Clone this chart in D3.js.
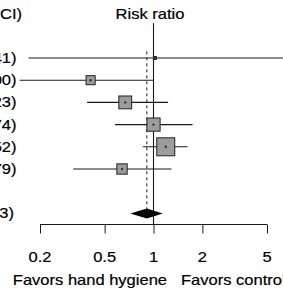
<!DOCTYPE html>
<html>
<head>
<meta charset="utf-8">
<script src="https://cdn.jsdelivr.net/npm/d3@7"></script>
<style>
  body { margin: 0; background: #fff; }
  svg { display: block; }
  text { font-family: "Liberation Sans", Arial, Helvetica, sans-serif; fill: #000; }
</style>
</head>
<body>
<div id="forest"></div>
<script>
var width = 283, height = 290;

// study rows (labels are cut off at the left edge in the source)
var labels = ["1.02 (0.17, 6.41)", "0.41 (0.15, 1.00)", "0.67 (0.39, 1.23)",
              "1.00 (0.58, 1.74)", "1.19 (0.86, 1.52)", "0.64 (0.32, 1.79)"];
var rr     = [1.02, 0.41, 0.67, 1.00, 1.19, 0.64];
var lower  = [0.17, 0.15, 0.39, 0.58, 0.86, 0.32];
var upper  = [6.41, 1.00, 1.23, 1.74, 1.62, 1.29];
var weights = [0.9, 8.5, 17, 18, 33.5, 11];

// pooled estimate
var pooledLabel = "0.91 (0.72, 1.13)";
var pooled = [0.91, 0.72, 1.14];

var ticks = [0.2, 0.5, 1, 2, 5];
var headerLabel = "RR (95% CI)";
var titleLabel = "Risk ratio";
var favorsLeft = "Favors hand hygiene", favorsRight = "Favors control";

const lineColor = "#1a1a1a", boxFill = "#9c9c9c";
var textScaleX = 1.18;

var x = d3.scaleLog().domain([0.2, 5]).range([40, 267]);
// row index -> y ; header at -2, pooled at 7, axis at 7.5
var y = d3.scaleLinear().domain([0, 1]).range([58, 80.2]);
var boxSize = d3.scaleSqrt().domain([0, 33.5]).range([0, 18]);

let svg = d3.select("#forest")
            .append("svg")
            .attr("width", width)
            .attr("height", height);

svg.append("rect").attr("width", width).attr("height", height).attr("fill", "#fff");

function addText(tx, ty, str, anchor) {
    svg.append("text")
       .attr("transform", "translate(" + tx + "," + ty + ") scale(" + textScaleX + ",1)")
       .attr("text-anchor", anchor)
       .style("font-size", "14px")
       .style("stroke", "#000")
       .style("stroke-width", 0.2)
       .text(str);
}

// reference lines
svg.append("line")
   .attr("x1", x(1)).attr("x2", x(1))
   .attr("y1", y(-1.57)).attr("y2", y(7.5))
   .attr("stroke", lineColor).attr("stroke-width", 1.1);

svg.append("line")
   .attr("x1", x(pooled[0])).attr("x2", x(pooled[0]))
   .attr("y1", y(-0.3)).attr("y2", y(7))
   .attr("stroke", lineColor).attr("stroke-width", 1)
   .attr("stroke-dasharray", "3,3");

// CI lines
let rows = svg.append("g");
rows.selectAll("line")
    .data(rr)
    .enter()
    .append("line")
    .attr("x1", (d, i) => x(lower[i]))
    .attr("x2", (d, i) => x(upper[i]))
    .attr("y1", (d, i) => y(i))
    .attr("y2", (d, i) => y(i))
    .attr("stroke", lineColor)
    .attr("stroke-width", 1.1);

// weighted boxes
rows.selectAll("rect")
    .data(rr)
    .enter()
    .append("rect")
    .attr("x", (d, i) => x(d) - boxSize(weights[i]) / 2)
    .attr("y", (d, i) => y(i) - boxSize(weights[i]) / 2)
    .attr("width", (d, i) => boxSize(weights[i]))
    .attr("height", (d, i) => boxSize(weights[i]))
    .attr("fill", boxFill)
    .attr("stroke", "#222")
    .attr("stroke-width", 1);

rows.selectAll("circle")
    .data(rr)
    .enter()
    .append("circle")
    .attr("cx", d => x(d))
    .attr("cy", (d, i) => y(i))
    .attr("r", 1.2)
    .attr("fill", "#333");

// pooled diamond
var yp = y(7);
svg.append("path")
   .attr("d", "M" + x(pooled[1]) + "," + yp +
              "L" + x(pooled[0]) + "," + (yp - 5) +
              "L" + x(pooled[2]) + "," + yp +
              "L" + x(pooled[0]) + "," + (yp + 5) + "Z")
   .attr("fill", "#000");

// x axis
let axis = svg.append("g")
    .attr("transform", "translate(0," + y(7.5) + ")")
    .call(d3.axisBottom(x).tickValues(ticks).tickSize(9).tickFormat(""));
axis.select(".domain").attr("stroke", lineColor).attr("d", "M" + x(0.2) + ",0H" + x(5));
axis.selectAll(".tick line").attr("stroke", lineColor);

ticks.forEach(t => addText(x(t), 262, d3.format("")(t), "middle"));

// text
addText(150, 19, titleLabel, "middle");
addText(22, 19, headerLabel, "end");
labels.forEach((l, i) => addText(16.5, y(i) + 5, l, "end"));
addText(14, yp + 5, pooledLabel, "end");
addText(167, 285, favorsLeft, "end");
addText(181, 285, favorsRight, "start");
</script>
</body>
</html>
